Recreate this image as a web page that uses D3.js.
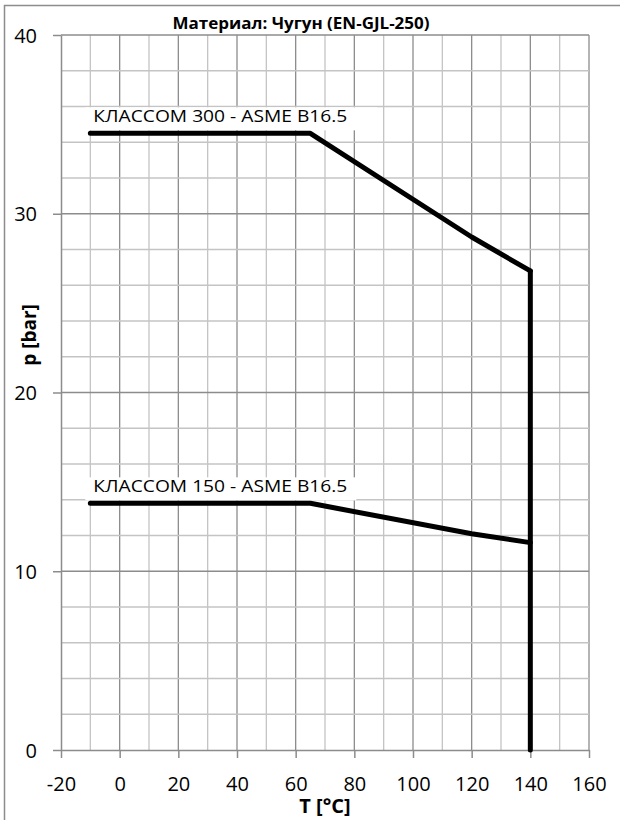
<!DOCTYPE html>
<html>

<head>
    <meta charset="UTF-8" />
    <title>p-T chart</title>
    <style>
        * {
            box-sizing: border-box;
        }

        body {
            margin: 0;
            padding: 0;
            background-color: white;
            font-family: 'Open Sans', 'Noto Sans', sans-serif;
        }

        svg {
            display: block;
        }
    </style>
</head>

<body>

    <div class="visCanvas"></div>

    <script src="https://cdnjs.cloudflare.com/ajax/libs/d3/7.8.5/d3.min.js"></script>

    <script>
        // values
        const chartTitle = 'Материал: Чугун (EN-GJL-250)'
        const xTitle = 'T [°C]'
        const yTitle = 'p [bar]'

        const xTicks = [-20, 0, 20, 40, 60, 80, 100, 120, 140, 160]
        const yTicks = [0, 10, 20, 30, 40]

        const class300Label = 'КЛАССОМ 300 - ASME B16.5'
        const class300T = [-10, 65, 120, 140]
        const class300P = [34.5, 34.5, 28.7, 26.8]

        const class150Label = 'КЛАССОМ 150 - ASME B16.5'
        const class150T = [-10, 65, 120, 140]
        const class150P = [13.8, 13.8, 12.1, 11.6]

        const limitT = [140, 140]
        const limitP = [26.8, 0]

        const width = 620
        const height = 820
        const margin = { left: 61, right: 31, top: 35, bottom: 70 }

        const svg = d3.select('.visCanvas').append('svg')
            .attr('width', width)
            .attr('height', height)

        // outer chart border (runs off the right and bottom of the picture)
        svg.append('rect')
            .attr('x', 4.5)
            .attr('y', 5.5)
            .attr('width', width + 10)
            .attr('height', height + 10)
            .attr('fill', 'white')
            .attr('stroke', '#8c8c8c')
            .attr('stroke-width', 1.5)

        const x = d3.scaleLinear().domain([-20, 160]).range([margin.left, width - margin.right])
        const y = d3.scaleLinear().domain([0, 40]).range([height - margin.bottom, margin.top])

        const minorColor = '#c4c4c4'
        const majorColor = '#8c8c8c'

        // vertical grid every 10, darker every 20
        const grid = svg.append('g')
        grid.selectAll('line.v')
            .data(d3.range(-10, 161, 10))
            .join('line')
            .attr('x1', d => x(d)).attr('x2', d => x(d))
            .attr('y1', y(0)).attr('y2', y(40))
            .attr('stroke', d => d % 20 === 0 ? majorColor : minorColor)
            .attr('stroke-width', 1.3)

        // horizontal grid every 2, darker every 10
        grid.selectAll('line.h')
            .data(d3.range(2, 41, 2))
            .join('line')
            .attr('x1', x(-20)).attr('x2', x(160))
            .attr('y1', d => y(d)).attr('y2', d => y(d))
            .attr('stroke', d => d % 10 === 0 ? majorColor : minorColor)
            .attr('stroke-width', 1.3)

        // axes (plain hyphen for negatives, like the original)
        const plain = d => String(d)
        const xAxis = svg.append('g')
            .attr('transform', `translate(0,${y(0)})`)
            .call(d3.axisBottom(x).tickValues(xTicks).tickFormat(plain)
                .tickSize(8).tickSizeOuter(0).tickPadding(19))
        const yAxis = svg.append('g')
            .attr('transform', `translate(${x(-20)},0)`)
            .call(d3.axisLeft(y).tickValues(yTicks).tickFormat(plain)
                .tickSize(8).tickSizeOuter(0).tickPadding(16))

        for (const ax of [xAxis, yAxis]) {
            ax.select('.domain').attr('stroke', majorColor).attr('stroke-width', 1.5)
            ax.selectAll('.tick line').attr('stroke', majorColor).attr('stroke-width', 1.5)
            ax.selectAll('.tick text')
                .attr('fill', 'black')
                .style('font-family', "'Open Sans', sans-serif")
                .style('font-size', '20px')
        }
        yAxis.selectAll('.tick text').attr('dy', '0.35em')

        // titles
        svg.append('text')
            .attr('x', (x(-20) + x(160)) / 2 - 24)
            .attr('y', 29)
            .attr('text-anchor', 'middle')
            .attr('textLength', 257)
            .attr('lengthAdjust', 'spacingAndGlyphs')
            .style('font-size', '16px')
            .style('font-weight', 'bold')
            .text(chartTitle)

        svg.append('text')
            .attr('x', (x(-20) + x(160)) / 2)
            .attr('y', 813)
            .attr('text-anchor', 'middle')
            .style('font-size', '20px')
            .style('font-weight', 'bold')
            .text(xTitle)

        svg.append('text')
            .attr('transform', 'translate(36,335) rotate(-90)')
            .attr('text-anchor', 'middle')
            .style('font-size', '19px')
            .style('font-weight', 'bold')
            .text(yTitle)

        // series labels with white boxes
        function seriesLabel(label, t, p, boxW) {
            const g = svg.append('g')
            g.append('rect')
                .attr('x', x(t) - 5)
                .attr('y', y(p) - 26)
                .attr('width', boxW)
                .attr('height', 23)
                .attr('fill', 'white')
            g.append('text')
                .attr('x', x(t) + 3)
                .attr('y', y(p) - 11)
                .attr('textLength', 254)
                .attr('lengthAdjust', 'spacingAndGlyphs')
                .style('font-size', '17px')
                .text(label)
        }
        seriesLabel(class300Label, class300T[0], class300P[0], 292)
        seriesLabel(class150Label, class150T[0], class150P[0], 271)

        // lines
        const line = d3.line().x(d => x(d[0])).y(d => y(d[1]))
        const series = [
            d3.zip(class300T, class300P),
            d3.zip(class150T, class150P),
            d3.zip(limitT, limitP)
        ]
        svg.append('g')
            .selectAll('path')
            .data(series)
            .join('path')
            .attr('d', line)
            .attr('fill', 'none')
            .attr('stroke', 'black')
            .attr('stroke-width', 5)
            .attr('stroke-linecap', 'round')
            .attr('stroke-linejoin', 'round')
    </script>
</body>

</html>
